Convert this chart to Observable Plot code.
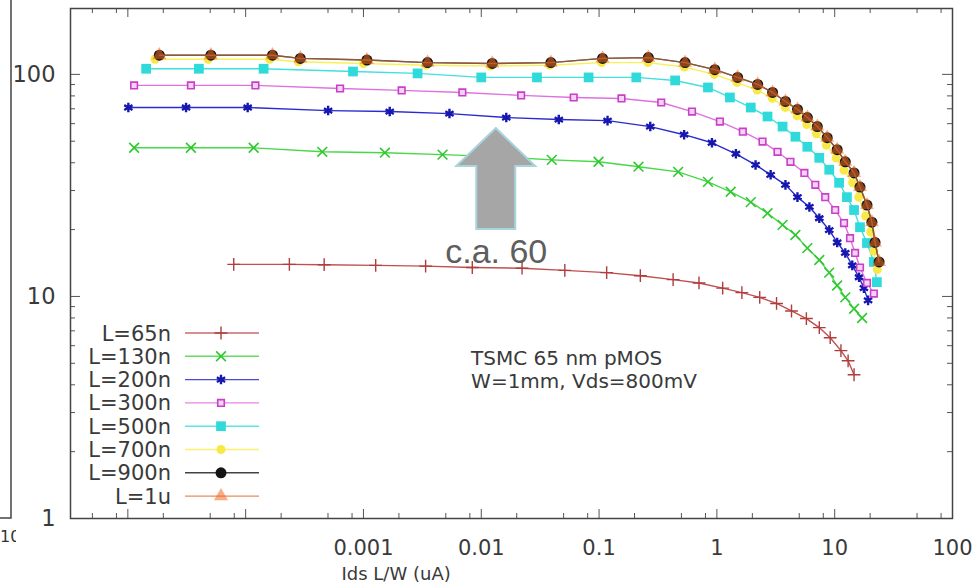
<!DOCTYPE html>
<html><head><meta charset="utf-8">
<script src="https://cdn.jsdelivr.net/npm/d3@7"></script>
<script src="https://cdn.jsdelivr.net/npm/@observablehq/plot@0.6"></script>
<style>
body{margin:0;background:#fff;overflow:hidden}
#wrap{position:relative;width:979px;height:587px}
#side{position:absolute;left:0;top:0}
</style>
</head><body><div id="wrap"></div>
<script>
// ---------- data ----------
const labels = ["L=65n","L=130n","L=200n","L=300n","L=500n","L=700n","L=900n","L=1u"];

const x65  = [7.92e-5,2.35e-4,4.64e-4,1.27e-3,3.37e-3,8.39e-3,0.0222,0.0512,0.116,0.224,0.425,0.705,1.12,1.63,2.31,3.21,4.30,5.75,7.40,9.16,11.3,13.0,14.6];
const y65  = [13.95,13.95,13.9,13.8,13.7,13.5,13.4,13.1,12.8,12.4,11.9,11.5,10.9,10.4,9.9,9.3,8.6,7.95,7.24,6.52,5.70,5.13,4.44];

const x130 = [1.13e-5,3.43e-5,1.17e-4,4.47e-4,1.52e-3,4.69e-3,0.0142,0.0397,0.099,0.216,0.469,0.84,1.31,1.94,2.69,3.61,4.64,5.86,7.40,8.99,10.5,12.3,14.6,17.1];
const y130 = [46.7,46.7,46.7,44.8,44.4,43.5,42.6,41.2,40.4,38.4,36.4,32.8,29.6,26.6,23.7,21.0,18.9,16.5,14.6,12.8,11.2,9.9,8.8,8.0];

const x200 = [1.01e-5,3.12e-5,1.04e-4,5.01e-4,1.67e-3,5.37e-3,0.0163,0.0455,0.118,0.272,0.527,0.908,1.45,2.13,2.86,3.82,4.83,6.10,7.40,8.99,10.5,12.3,14.1,16.1,17.7,19.2];
const y200 = [70.9,70.9,70.9,68.7,68.0,66.6,63.9,62.6,61.9,58.2,53.5,49.2,43.9,39.1,35.3,31.8,28.0,25.3,22.5,19.9,17.5,15.7,13.8,12.2,10.9,9.6];

const x300 = [1.13e-5,3.43e-5,1.21e-4,6.33e-4,2.11e-3,6.91e-3,0.0218,0.0609,0.155,0.337,0.615,1.06,1.66,2.44,3.27,4.21,5.53,6.85,8.31,10.1,12.0,13.5,14.9,16.4,18.8,21.5];
const y300 = [89.2,89.2,89.2,86.4,84.7,82.9,80.4,78.7,77.9,74.7,68.0,61.3,55.2,49.8,44.8,40.4,36.0,31.8,28.0,24.5,21.4,18.3,15.7,13.5,11.5,10.3];

const x500 = [1.43e-5,4.01e-5,1.42e-4,8.15e-4,2.88e-3,0.01,0.0297,0.0815,0.207,0.442,0.84,1.29,1.94,2.69,3.61,4.64,5.86,7.40,8.99,10.9,12.7,14.6,16.4,18.8,21.5,22.8];
const y500 = [106,106,106,103,101,96.9,96.9,96.9,96.9,93.9,87.3,78.7,70.9,64.6,58.2,52.4,47.2,42.1,37.2,32.5,28.0,24.5,20.5,17.4,14.3,11.6];

const x700 = [1.7e-5,4.8e-5,1.6e-4,2.8e-4,1.0e-3,3.4e-3,0.012,0.038,0.105,0.26,0.53,0.95,1.48,2.2,2.95,3.8,4.8,5.8,7.0,8.5,10.3,12.0,14.2,16.0,18.3,20.2,21.5,23.0];
const y700 = [117,117,117,114,112,110,109,110,113,113,108,100,92,85,78,71,65,59.5,54,48,42,37,32.5,28,23,19.5,16,13.2];

const x900 = [1.85e-5,5.07e-5,1.69e-4,2.91e-4,1.07e-3,3.50e-3,0.0124,0.039,0.107,0.262,0.537,0.96,1.50,2.22,2.97,3.82,4.83,5.86,7.12,8.64,10.5,12.3,14.6,16.4,18.8,20.7,22.0,23.8];
const y900 = [122,122,122,118,116,113,112,113,118,119,113,105,96.9,90.1,82.9,75.5,69.5,63.9,58.2,51.9,45.8,40.4,36.0,31.1,25.8,21.6,17.5,14.3];

const x1u  = [1.85e-5,5.07e-5,1.69e-4,2.91e-4,1.07e-3,3.50e-3,0.0124,0.039,0.107,0.262,0.537,0.96,1.50,2.22,2.97,3.82,4.83,5.86,7.12,8.64,10.5,12.3,14.6,16.4,18.8,20.7,22.0,23.8];
const y1u  = [122,122,122,118,116,113,112,113,118,119,113,105,96.9,90.1,82.9,75.5,69.5,63.9,58.2,51.9,45.8,40.4,36.0,31.1,25.8,21.6,17.5,14.3];

const xTickLabels = [0.001, 0.01, 0.1, 1, 10, 100];
const yTickLabels = [1, 10, 100];
const xDecades = [1e-6, 1e-5, 1e-4, 1e-3, 1e-2, 1e-1, 1, 10, 100];
const xMinorMult = [2, 5, 8];
const yDecades = [1, 10, 100];
const yMinorMult = [2, 3, 4, 5, 6, 7, 8, 9];

const xLabel = "Ids L/W (uA)";
const noteText = ["TSMC 65 nm pMOS", "W=1mm, Vds=800mV"];
const noteAt = {x: 0.0082, y: 4.7};
const arrowAt = {x: 0.0134, y: 57};
const calloutText = "c.a. 60";
const calloutAt = {x: 0.0134, y: 15.9};
const sideText = "10";

// ---------- styles ----------
const styles = [
  {line:"#c05050", symbol:"plus",     r:4.2, stroke:"#b03c3c", fill:"none", sw:1.4},
  {line:"#48d848", symbol:"times",    r:4.5, stroke:"#30c830", fill:"none", sw:1.6},
  {line:"#2a2ad0", symbol:"asterisk", r:4.5, stroke:"#1616b0", fill:"none", sw:2.4},
  {line:"#e070e0", symbol:"square2",  r:4.2, stroke:"#c840c8", fill:"#f4d4f4", sw:1.6},
  {line:"#40e0e0", symbol:"square",   r:5.5, stroke:"none",    fill:"#30dada"},
  {line:"#f8f058", symbol:"circle",   r:4.5, stroke:"none",    fill:"#f8e848"},
  {line:"#222222", symbol:"circle",   r:5.5, stroke:"none",    fill:"#141414"},
  {line:"#e07840", symbol:"triangle", r:5.2, stroke:"none",    fill:"#f06a20", opacity:0.55, lineOpacity:0.6}
];

const xsAll = [x65,x130,x200,x300,x500,x700,x900,x1u];
const ysAll = [y65,y130,y200,y300,y500,y700,y900,y1u];
const series = labels.map((name, i) => ({
  name, style: styles[i],
  rows: xsAll[i].map((x, j) => ({x, y: ysAll[i][j]}))
}));

const xMinor = xDecades.flatMap(d => xMinorMult.map(m => d * m)).filter(v => v > 3.3e-6 && v < 100);
const xMajor = xDecades.filter(v => v >= 1e-5);
const yMinor = yDecades.flatMap(d => yMinorMult.map(m => d * m)).filter(v => v < 198);

// ---------- layout ----------
const W = 979, H = 587, mt = 8, mb = 69, ml = 70, mr = 27;
const innerH = H - mt - mb, innerW = W - ml - mr;
const tickCol = "#555";

function legendMark(index, scales, values, dims) {
  const g = d3.create("svg:g");
  series.forEach((s, i) => {
    const y = dims.marginTop + 325 + i * 23.3;
    g.append("text").attr("x", 171).attr("y", y).attr("dy", "0.36em")
      .attr("text-anchor", "end").attr("fill", "#3a3a3a").attr("font-size", 21).text(s.name);
    g.append("line").attr("x1", 185).attr("x2", 259).attr("y1", y).attr("y2", y)
      .attr("stroke", s.style.line).attr("stroke-width", 1.4).attr("stroke-opacity", 0.85);
    const sym = {plus: d3.symbolPlus, times: d3.symbolTimes, asterisk: d3.symbolAsterisk,
      square2: d3.symbolSquare2, square: d3.symbolSquare, circle: d3.symbolCircle, triangle: d3.symbolTriangle}[s.style.symbol];
    g.append("path").attr("transform", `translate(221,${y})`)
      .attr("d", d3.symbol(sym, Math.PI * s.style.r * s.style.r)())
      .attr("fill", s.style.fill).attr("stroke", s.style.stroke)
      .attr("stroke-width", s.style.sw || 1).attr("opacity", s.style.opacity ?? 1);
  });
  return g.node();
}

function arrowMark(index, scales) {
  const cx = scales.x(arrowAt.x), ty = scales.y(arrowAt.y);
  const hw = 39.5, hh = 38, sw = 19.5, len = 101;
  const pts = [[cx, ty],[cx + hw, ty + hh],[cx + sw, ty + hh],[cx + sw, ty + len],
               [cx - sw, ty + len],[cx - sw, ty + hh],[cx - hw, ty + hh]];
  const g = d3.create("svg:g");
  g.append("path").attr("d", "M" + pts.map(p => p.join(",")).join("L") + "Z")
    .attr("fill", "#a6a6a6").attr("stroke", "#a8d4dc").attr("stroke-width", 2)
    .attr("stroke-linejoin", "miter");
  return g.node();
}

const marks = [
  // inward ticks, all four sides
  Plot.tickX(xMajor, {x: d => d, stroke: tickCol, insetTop: innerH - 9}),
  Plot.tickX(xMinor, {x: d => d, stroke: tickCol, insetTop: innerH - 5}),
  Plot.tickX(xMajor, {x: d => d, stroke: tickCol, insetBottom: innerH - 9}),
  Plot.tickX(xMinor, {x: d => d, stroke: tickCol, insetBottom: innerH - 5}),
  Plot.tickY(yDecades, {y: d => d, stroke: tickCol, insetRight: innerW - 10}),
  Plot.tickY(yMinor, {y: d => d, stroke: tickCol, insetRight: innerW - 5}),
  Plot.tickY(yDecades, {y: d => d, stroke: tickCol, insetLeft: innerW - 10}),
  Plot.tickY(yMinor, {y: d => d, stroke: tickCol, insetLeft: innerW - 5}),
  Plot.axisX(xTickLabels, {tickSize: 0, tickPadding: 22, tickFormat: d => String(d), fill: "#3a3a3a", label: null}),
  Plot.axisY(yTickLabels, {tickSize: 0, tickPadding: 15, tickFormat: d => String(d), fill: "#3a3a3a", label: null, fontSize: 22.5}),
  Plot.text([xLabel], {frameAnchor: "bottom-left", textAnchor: "start", dx: 271, dy: 61, fill: "#3a3a3a", fontSize: 18}),
];

series.forEach(s => {
  marks.push(Plot.line(s.rows, {x: "x", y: "y", stroke: s.style.line, strokeWidth: 1.4,
    strokeOpacity: s.style.lineOpacity ?? 1}));
  marks.push(Plot.dot(s.rows, {x: "x", y: "y", symbol: s.style.symbol, r: s.style.r,
    fill: s.style.fill, stroke: s.style.stroke, strokeWidth: s.style.sw || 1,
    opacity: s.style.opacity ?? 1}));
});

marks.push(
  Plot.text([noteText.join("\n")], {x: () => noteAt.x, y: () => noteAt.y, textAnchor: "start",
    lineAnchor: "middle", lineHeight: 1.12, fontSize: 20, fill: "#3a3a3a"}),
  legendMark,
  Plot.frame({stroke: "#444", strokeWidth: 1.5}),
  arrowMark,
  Plot.text([calloutText], {x: () => calloutAt.x, y: () => calloutAt.y, fontSize: 34,
    fontFamily: "Liberation Sans, Arial, sans-serif", fill: "#5e5e5e"})
);

const chart = Plot.plot({
  width: W, height: H,
  marginTop: mt, marginBottom: mb, marginLeft: ml, marginRight: mr,
  x: {type: "log", domain: [3.26e-6, 100], axis: null},
  y: {type: "log", domain: [1, 198], axis: null},
  style: {fontFamily: "DejaVu Sans, sans-serif", fontSize: "21px", background: "#fff", overflow: "visible"},
  marks
});
document.getElementById("wrap").appendChild(chart);

// edge of a neighbouring, cropped-off chart at the far left
const side = d3.select("#wrap").append("svg").attr("id", "side").attr("width", 16).attr("height", 560);
side.append("path").attr("d", "M11,0V518H0").attr("fill", "none").attr("stroke", "#444").attr("stroke-width", 1.5);
side.append("text").attr("x", 0).attr("y", 542).attr("font-family", "DejaVu Sans").attr("font-size", 16)
  .attr("fill", "#333").text(sideText);
</script>
</body></html>
